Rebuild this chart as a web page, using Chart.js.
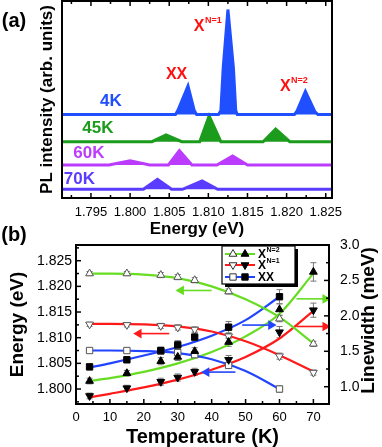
<!DOCTYPE html>
<html>
<head>
<meta charset="utf-8">
<script src="https://cdn.jsdelivr.net/npm/chart.js@4.4.1/dist/chart.umd.min.js"></script>
<style>
  body { margin: 0; background: #fff; width: 382px; height: 447px; position: relative; overflow: hidden; }
  #pa { position: absolute; left: 0; top: 0; }
  #pb { position: absolute; left: 0; top: 220px; }
</style>
</head>
<body>
<canvas id="pa" width="382" height="245"></canvas>
<canvas id="pb" width="382" height="227"></canvas>
<script>
// ---------- panel (a): PL spectra, [energy eV, intensity above baseline] ----------
const energyTicks = [1.795, 1.800, 1.805, 1.810, 1.815, 1.820, 1.825];
const specLabels = ['4K', '45K', '60K', '70K'];
const specColors = ['#1f4fff', '#1c9c1c', '#bb3cff', '#5a3cff'];
const specOffsets = [83.5, 56.3, 33, 8.7];
const spec4K = [[1.7913,0],[1.8058,0],[1.8061,4],[1.8074,28.5],[1.8082,4],[1.8085,0],
  [1.8113,0],[1.8116,4],[1.8119,47],[1.8125,105],[1.8132,47],[1.8135,4],[1.8137,0],
  [1.8210,0],[1.8213,3],[1.8224,23],[1.8236,3],[1.8240,0],[1.8258,0]];
const spec45K = [[1.7913,0],[1.8028,0],[1.8046,6.7],[1.8066,0],[1.8089,0],[1.8101,25.7],[1.8116,0],
  [1.8170,0],[1.8186,12.7],[1.8204,0],[1.8258,0]];
const spec60K = [[1.7913,0],[1.7973,0],[1.8000,4.3],[1.8025,0],[1.8049,0],[1.8063,14.3],[1.8079,0],
  [1.8111,0],[1.8131,9],[1.8150,0],[1.8258,0]];
const spec70K = [[1.7913,0],[1.8017,0],[1.8035,10],[1.8053,0],[1.8067,0],[1.8092,8.3],[1.8112,0],[1.8258,0]];
const spectra = [spec4K, spec45K, spec60K, spec70K];

// ---------- panel (b): energy (open) and linewidth (filled) vs temperature ----------
const tempTicks = [0, 10, 20, 30, 40, 50, 60, 70];
const eAxisTicks = [1.800, 1.805, 1.810, 1.815, 1.820, 1.825];
const lwAxisTicks = [1.0, 1.5, 2.0, 2.5, 3.0];
const temps = [4, 15, 25, 30, 35, 45, 60, 70];
const tempsXX = [4, 15, 25, 30, 35, 45, 60];
const energyN2 = [1.8225, 1.8225, 1.8222, 1.8218, 1.8212, 1.8190, 1.8137, 1.8088];
const energyN1 = [1.8126, 1.8125, 1.8123, 1.8120, 1.8116, 1.8103, 1.8064, 1.8032];
const energyXX = [1.8075, 1.8075, 1.8074, 1.8071, 1.8067, 1.8046, 1.8000];
const errEnergy = [0.0004, 0.0004, 0.0005, 0.0005, 0.0005, 0.0005, 0.0006, 0.0005];
const lwN2 = [1.08, 1.19, 1.36, 1.42, 1.50, 1.63, 2.09, 2.62];
const lwN1 = [0.87, 0.98, 1.07, 1.13, 1.21, 1.38, 1.77, 2.08];
const lwXX = [1.28, 1.38, 1.51, 1.59, 1.70, 1.84, 2.27];
const errLwN2 = [0.04, 0.04, 0.05, 0.05, 0.05, 0.06, 0.08, 0.13];
const errLwN1 = [0.04, 0.04, 0.05, 0.05, 0.05, 0.06, 0.08, 0.10];
const errLwXX = [0.04, 0.04, 0.05, 0.06, 0.06, 0.08, 0.10];
// fitted curves
const fitT = [4, 10, 20, 30, 40, 50, 60, 70];
const fitTXX = [4, 10, 20, 30, 40, 50, 60];
const fitEnergyN2 = [1.8225, 1.8225, 1.8223, 1.8216, 1.8200, 1.8175, 1.8140, 1.8089];
const fitEnergyN1 = [1.8127, 1.8127, 1.8126, 1.8122, 1.8112, 1.8093, 1.8066, 1.8034];
const fitEnergyXX = [1.8075, 1.8075, 1.8074, 1.8070, 1.8058, 1.8035, 1.8000];
const fitLwN2 = [1.08, 1.12, 1.21, 1.33, 1.49, 1.71, 2.03, 2.60];
const fitLwN1 = [0.85, 0.90, 0.99, 1.10, 1.24, 1.42, 1.68, 2.07];
const fitLwXX = [1.27, 1.33, 1.44, 1.56, 1.72, 1.94, 2.27];
// arrows pointing to the axis each curve belongs to
const arrowAxis = ['yE', 'yE', 'yE', 'yL', 'yL', 'yL'];
const arrowLevel = [1.8192, 1.8108, 1.8033, 1.87, 2.24, 1.85];
const arrowFrom = [40, 27.5, 47, 49, 65, 65];
const arrowTo = [31, 18.5, 38.5, 57.5, 73.5, 73.5];

const cN2 = '#66dd22', cN1 = '#ff1a1a', cXX = '#2244ff';
const arrowColor = [cN2, cN1, cXX, cXX, cN2, cN1];

Chart.defaults.font.family = '"Liberation Sans", Arial, sans-serif';
Chart.defaults.color = '#000';

// frame + inward ticks (major & minor)
const frameTicks = {
  id: 'frameTicks',
  afterDatasetsDraw(chart, args, opts) {
    const {ctx, chartArea: a} = chart;
    ctx.save();
    ctx.strokeStyle = '#000';
    ctx.lineWidth = 1.5;
    opts.marks.forEach(m => {
      const s = chart.scales[m.id];
      const vals = s.ticks.map(t => t.value);
      const step = vals[1] - vals[0];
      const list = vals.map(v => [v, 5]);
      for (let v = vals[0] - step / 2; v <= s.max + 1e-9; v += step) {
        if (v >= s.min) list.push([v, 3]);
      }
      list.forEach(([v, len]) => {
        const p = s.getPixelForValue(v);
        m.sides.forEach(side => {
          ctx.beginPath();
          if (side === 'bottom') { ctx.moveTo(p, a.bottom); ctx.lineTo(p, a.bottom - len); }
          if (side === 'top') { ctx.moveTo(p, a.top); ctx.lineTo(p, a.top + len); }
          if (side === 'left') { ctx.moveTo(a.left, p); ctx.lineTo(a.left + len, p); }
          if (side === 'right') { ctx.moveTo(a.right, p); ctx.lineTo(a.right - len, p); }
          ctx.stroke();
        });
      });
    });
    ctx.lineWidth = 2;
    ctx.strokeRect(a.left, a.top, a.width, a.height);
    ctx.restore();
  }
};

function drawLabel(ctx, x, y, main, sup, size, supSize) {
  ctx.font = 'bold ' + size + 'px "Liberation Sans", Arial, sans-serif';
  ctx.textBaseline = 'middle';
  ctx.textAlign = 'left';
  const w = ctx.measureText(main).width;
  const w2 = sup ? (ctx.font = 'bold ' + supSize + 'px "Liberation Sans", Arial, sans-serif', ctx.measureText(sup).width) : 0;
  const x0 = x - (w + w2) / 2;
  ctx.font = 'bold ' + size + 'px "Liberation Sans", Arial, sans-serif';
  ctx.fillText(main, x0, y);
  if (sup) {
    ctx.font = 'bold ' + supSize + 'px "Liberation Sans", Arial, sans-serif';
    ctx.fillText(sup, x0 + w + 0.5, y - size * 0.38);
  }
}

// peak / temperature labels of panel (a)
const specNotes = {
  id: 'specNotes',
  afterDraw(chart) {
    const {ctx, scales: {x, y}} = chart;
    ctx.save();
    const temps = [[1.79755, 96.5], [1.79589, 70], [1.79474, 45], [1.79353, 19]];
    temps.forEach((t, i) => {
      ctx.fillStyle = specColors[i];
      drawLabel(ctx, x.getPixelForValue(t[0]), y.getPixelForValue(t[1]), specLabels[i], '', 17, 0);
    });
    ctx.fillStyle = '#ff1010';
    drawLabel(ctx, x.getPixelForValue(1.80594), y.getPixelForValue(123), 'XX', '', 16, 0);
    drawLabel(ctx, x.getPixelForValue(1.80990), y.getPixelForValue(171.5), 'X', 'N=1', 16, 9);
    drawLabel(ctx, x.getPixelForValue(1.82090), y.getPixelForValue(111), 'X', 'N=2', 16, 9);
    ctx.fillStyle = '#000';
    drawLabel(ctx, 14, 21, '(a)', '', 20, 0);
    ctx.restore();
  }
};

// error bars of panel (b)
const errorBars = {
  id: 'errorBars',
  beforeDatasetsDraw(chart) {
    const {ctx} = chart;
    ctx.save();
    ctx.strokeStyle = '#777';
    ctx.lineWidth = 1;
    chart.data.datasets.forEach((ds, i) => {
      if (!ds.errors) return;
      const s = chart.scales[ds.yAxisID];
      const meta = chart.getDatasetMeta(i);
      ds.data.forEach((p, j) => {
        const px = meta.data[j].x;
        const y1 = s.getPixelForValue(p.y + ds.errors[j]);
        const y2 = s.getPixelForValue(p.y - ds.errors[j]);
        ctx.beginPath();
        ctx.moveTo(px, y1); ctx.lineTo(px, y2);
        ctx.moveTo(px - 3, y1); ctx.lineTo(px + 3, y1);
        ctx.moveTo(px - 3, y2); ctx.lineTo(px + 3, y2);
        ctx.stroke();
      });
    });
    ctx.restore();
  }
};

// legend box, right-hand title and panel letter of (b)
const panelB = {
  id: 'panelB',
  afterDraw(chart) {
    const {ctx, chartArea: a} = chart;
    ctx.save();
    const bx = a.right - 107, by = a.top + 1, bw = 73, bh = 38;
    ctx.fillStyle = '#000';
    ctx.fillRect(bx + 3, by + 3, bw, bh);
    ctx.fillStyle = '#fff';
    ctx.fillRect(bx, by, bw, bh);
    ctx.strokeStyle = '#000';
    ctx.lineWidth = 1.2;
    ctx.strokeRect(bx, by, bw, bh);
    const rows = [
      {main: 'X', sup: 'N=2', color: cN2, style: 'triangle', rot: 0, dy: 8},
      {main: 'X', sup: 'N=1', color: cN1, style: 'triangle', rot: 180, dy: 19},
      {main: 'XX', sup: '', color: cXX, style: 'rect', rot: 0, dy: 31}
    ];
    rows.forEach(r => {
      const yy = by + r.dy;
      ctx.strokeStyle = r.color;
      ctx.lineWidth = 2;
      ctx.beginPath(); ctx.moveTo(bx + 3, yy); ctx.lineTo(bx + 33, yy); ctx.stroke();
      ctx.lineWidth = 1;
      ctx.strokeStyle = '#333';
      ctx.fillStyle = '#fff';
      Chart.helpers.drawPoint(ctx, {pointStyle: r.style, radius: 4.5, rotation: r.rot, borderWidth: 1}, bx + 11, yy);
      ctx.fillStyle = '#000';
      ctx.strokeStyle = '#000';
      Chart.helpers.drawPoint(ctx, {pointStyle: r.style, radius: 4.5, rotation: r.rot, borderWidth: 1}, bx + 23, yy);
      ctx.fillStyle = '#000';
      ctx.font = 'bold 12px "Liberation Sans", Arial, sans-serif';
      ctx.textBaseline = 'middle';
      ctx.textAlign = 'left';
      ctx.fillText(r.main, bx + 36, yy + 1);
      if (r.sup) {
        const w = ctx.measureText(r.main).width;
        ctx.font = 'bold 7px "Liberation Sans", Arial, sans-serif';
        ctx.fillText(r.sup, bx + 36 + w + 0.5, yy - 4);
      }
    });
    ctx.fillStyle = '#000';
    ctx.font = 'bold 19px "Liberation Sans", Arial, sans-serif';
    ctx.textAlign = 'center';
    ctx.textBaseline = 'middle';
    ctx.translate(chart.width - 13, (a.top + a.bottom) / 2 - 4);
    ctx.rotate(-Math.PI / 2);
    ctx.fillText('Linewidth (meV)', 0, 0);
    ctx.restore();
    ctx.save();
    drawLabel(ctx, 14, 15, '(b)', '', 20, 0);
    ctx.restore();
  }
};

const noGrid = {display: false, drawTicks: false};

new Chart(document.getElementById('pa'), {
  type: 'line',
  data: {
    datasets: spectra.map((s, i) => ({
      label: specLabels[i],
      data: s.map(p => ({x: p[0], y: p[1] + specOffsets[i]})),
      borderColor: specColors[i],
      backgroundColor: specColors[i],
      borderWidth: 3,
      pointRadius: 0,
      tension: 0,
      fill: {value: specOffsets[i]}
    }))
  },
  options: {
    responsive: false,
    animation: false,
    layout: {padding: {top: 1, right: 50, left: 0, bottom: 0}},
    plugins: {
      legend: {display: false},
      tooltip: {enabled: false},
      frameTicks: {marks: [{id: 'x', sides: ['bottom', 'top']}]}
    },
    scales: {
      x: {
        type: 'linear', min: 1.7913, max: 1.8258,
        grid: noGrid, border: {display: false},
        afterBuildTicks: s => { s.ticks = energyTicks.map(v => ({value: v})); },
        afterFit: s => { s.height = 47; },
        ticks: {padding: 7, font: {size: 13}, maxRotation: 0, autoSkip: false, callback: v => v.toFixed(3)},
        title: {display: true, text: 'Energy (eV)', font: {size: 17, weight: 'bold'}, padding: {top: 0, bottom: 5}}
      },
      y: {
        min: 0, max: 197,
        grid: noGrid, border: {display: false},
        ticks: {display: false},
        afterFit: s => { s.width = 62; },
        title: {display: true, text: 'PL intensity (arb. units)', font: {size: 17, weight: 'bold'}, padding: {top: 37, bottom: 0}}
      }
    }
  },
  plugins: [frameTicks, specNotes]
});

const pts = (xs, ys) => xs.map((x, i) => ({x: x, y: ys[i]}));
const marker = (xs, ys, errs, axis, style, rot, filled) => ({
  data: pts(xs, ys), yAxisID: axis, showLine: false, errors: errs,
  pointStyle: style, rotation: rot, pointRadius: 4.5,
  pointBackgroundColor: filled ? '#000' : '#fff',
  pointBorderColor: filled ? '#000' : '#555', pointBorderWidth: 1
});
const fit = (xs, ys, axis, color) => ({
  data: pts(xs, ys), yAxisID: axis, borderColor: color, borderWidth: 2.2,
  pointRadius: 0, cubicInterpolationMode: 'monotone'
});
const arrows = arrowAxis.map((ax, i) => ({
  data: [{x: arrowFrom[i], y: arrowLevel[i]}, {x: arrowTo[i], y: arrowLevel[i]}],
  yAxisID: ax, borderColor: arrowColor[i], borderWidth: 1.6,
  pointRadius: [0, 4], pointStyle: 'triangle', rotation: arrowTo[i] < arrowFrom[i] ? -90 : 90,
  pointBackgroundColor: arrowColor[i], pointBorderColor: arrowColor[i]
}));

new Chart(document.getElementById('pb'), {
  type: 'line',
  data: {
    datasets: [
      marker(temps, lwN2, errLwN2, 'yL', 'triangle', 0, true),
      marker(temps, lwN1, errLwN1, 'yL', 'triangle', 180, true),
      marker(tempsXX, lwXX, errLwXX, 'yL', 'rect', 0, true),
      marker(temps, energyN2, errEnergy, 'yE', 'triangle', 0, false),
      marker(temps, energyN1, errEnergy, 'yE', 'triangle', 180, false),
      marker(tempsXX, energyXX, errEnergy, 'yE', 'rect', 0, false),
      ...arrows,
      fit(fitT, fitEnergyN2, 'yE', cN2),
      fit(fitT, fitEnergyN1, 'yE', cN1),
      fit(fitTXX, fitEnergyXX, 'yE', cXX),
      fit(fitT, fitLwN2, 'yL', cN2),
      fit(fitT, fitLwN1, 'yL', cN1),
      fit(fitTXX, fitLwXX, 'yL', cXX)
    ]
  },
  options: {
    responsive: false,
    animation: false,
    layout: {padding: {top: 25, right: 0, left: 0, bottom: 0}},
    plugins: {
      legend: {display: false},
      tooltip: {enabled: false},
      frameTicks: {marks: [{id: 'x', sides: ['bottom']}, {id: 'yE', sides: ['left']}, {id: 'yL', sides: ['right']}]}
    },
    scales: {
      x: {
        type: 'linear', min: 0, max: 74.6,
        grid: noGrid, border: {display: false},
        afterBuildTicks: s => { s.ticks = tempTicks.map(v => ({value: v})); },
        afterFit: s => { s.height = 43; },
        ticks: {padding: 6, font: {size: 13}, maxRotation: 0, autoSkip: false},
        title: {display: true, text: 'Temperature (K)', font: {size: 20, weight: 'bold', lineHeight: 1}, padding: {top: 0, bottom: 0}}
      },
      yE: {
        position: 'left', min: 1.79708, max: 1.82806,
        grid: noGrid, border: {display: false},
        afterBuildTicks: s => { s.ticks = eAxisTicks.map(v => ({value: v})); },
        afterFit: s => { s.width = 76; },
        ticks: {padding: 4, font: {size: 14}, callback: v => v.toFixed(3)},
        title: {display: true, text: 'Energy (eV)', font: {size: 19, weight: 'bold'}, padding: {top: 6.6, bottom: 0}}
      },
      yL: {
        position: 'right', min: 0.756, max: 3.0,
        grid: noGrid, border: {display: false},
        afterBuildTicks: s => { s.ticks = lwAxisTicks.map(v => ({value: v})); },
        afterFit: s => { s.width = 53; },
        ticks: {padding: 11, font: {size: 14}, callback: v => v.toFixed(1)}
      }
    }
  },
  plugins: [errorBars, frameTicks, panelB]
});
</script>
</body>
</html>
